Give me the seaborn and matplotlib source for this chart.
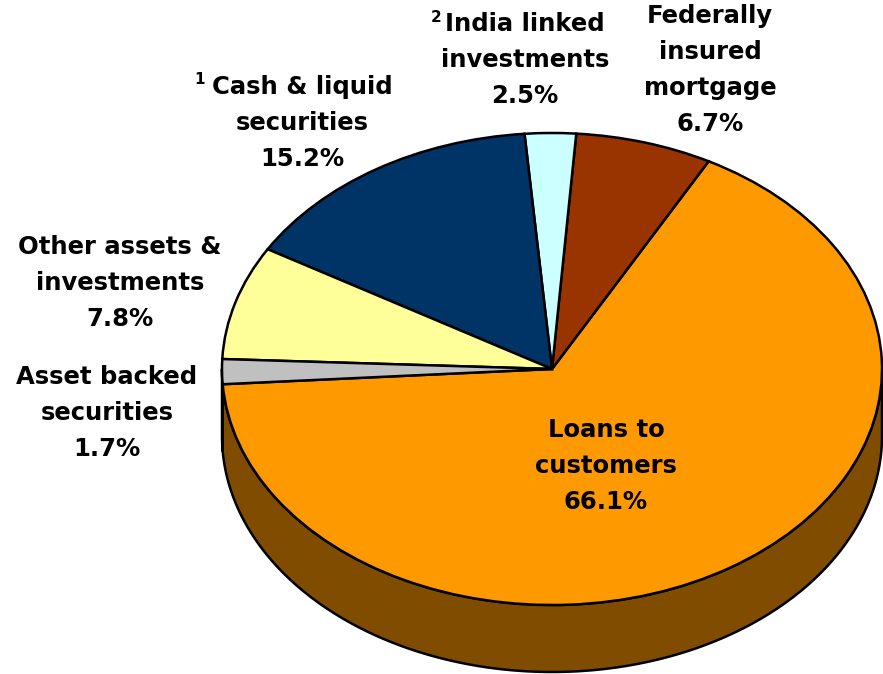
import numpy as np
import matplotlib
matplotlib.use("Agg")
import matplotlib.pyplot as plt
from matplotlib.patches import Polygon
import seaborn as sns

# Asset mix (percent of total), listed counter-clockwise from the start angle
categories = ["Loans to\ncustomers", "Federally\ninsured\nmortgage", "India linked\ninvestments",
              "Cash & liquid\nsecurities", "Other assets &\ninvestments", "Asset backed\nsecurities"]
shares = [66.1, 6.7, 2.5, 15.2, 7.8, 1.7]
footnotes = ["", "", "2", "1", "", ""]
top_colors = ["#FF9900", "#993300", "#CCFFFF", "#003366", "#FFFF99", "#C0C0C0"]
side_colors = ["#7F4C00", "#4C1900", "#668080", "#001933", "#80804C", "#606060"]

sns.set_style("white")
plt.rcParams["font.family"] = ["DejaVu Sans"]

W, H = 883, 674
fig = plt.figure(figsize=(W / 100, H / 100), dpi=100)
ax = fig.add_axes([0, 0, 1, 1])

# Pixel geometry of the tilted pie (centre, radii, thickness)
cx, cy, rx, ry, depth_px = 552, 369, 330, 236, 67
depth = depth_px / ry

wedges, _ = ax.pie(shares, colors=top_colors, startangle=183.7, counterclock=True,
                   radius=1.0, center=(0, 0),
                   wedgeprops=dict(edgecolor="black", linewidth=1.8, zorder=3))

# Visible front rim of each slice
for w, sc in zip(wedges, side_colors):
    t1, t2 = w.theta1, w.theta2
    for lo, hi in [(-180, 0), (180, 360), (540, 720)]:
        a, b = max(t1, lo), min(t2, hi)
        if b <= a:
            continue
        t = np.radians(np.linspace(a, b, 200))
        top = np.column_stack([np.cos(t), np.sin(t)])
        bot = np.column_stack([np.cos(t), np.sin(t) - depth])[::-1]
        ax.add_patch(Polygon(np.vstack([top, bot]), closed=True, facecolor=sc,
                             edgecolor="black", linewidth=1.8, zorder=2,
                             joinstyle="round"))

ax.set_aspect("auto")
ax.set_xlim(-cx / rx, (W - cx) / rx)
ax.set_ylim(-(H - cy) / ry, cy / ry)
ax.axis("off")

# Label anchor points in pixels (block centre)
label_px = [(606, 466), (710, 70), (525, 60), (302, 123), (120, 283), (107, 413)]
note_px = [None, None, (436, 18), (200, 80), None, None]

def to_data(px, py):
    return (px - cx) / rx, (cy - py) / ry

for name, v, (px, py), note, npx in zip(categories, shares, label_px, footnotes, note_px):
    x, y = to_data(px, py)
    ax.text(x, y, f"{name}\n{v:.1f}%", ha="center", va="center", fontsize=17.5,
            fontweight="bold", linespacing=1.62, color="black", zorder=5)
    if note:
        nx, ny = to_data(*npx)
        ax.text(nx, ny, note, ha="center", va="center", fontsize=11,
                fontweight="bold", color="black", zorder=5)

fig.savefig("out.png", dpi=100, facecolor="white")
